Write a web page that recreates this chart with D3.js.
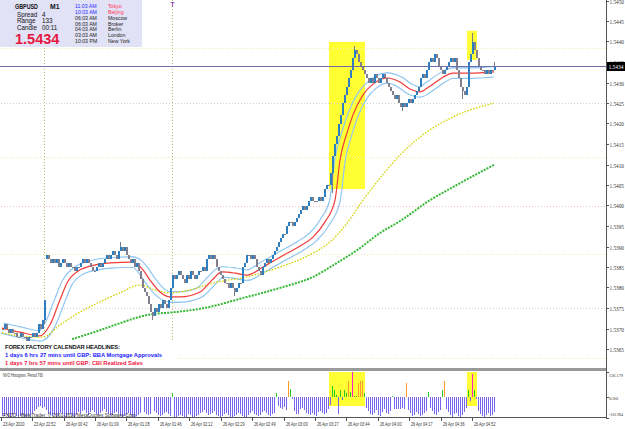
<!DOCTYPE html>
<html lang="en">
<head>
<meta charset="UTF-8">
<title>GBPUSD M1</title>
<script src="https://d3js.org/d3.v7.min.js"></script>
<style>
  body { margin: 0; background: #fff; }
  svg { display: block; font-family: "Liberation Sans", Arial, sans-serif; }
</style>
</head>
<body>
<div id="chart"></div>
<script>
// M1 closes, one per bar
const closes = [
  1.5370,1.5371,1.5370,1.5369,1.5370,1.5369,1.5369,
  1.5368,1.5368,1.5369,1.5368,1.5368,1.5367,1.5368,1.5368,1.5369,1.5368,1.5369,1.5371,
  1.5370,1.5372,1.5377,
  1.5388,1.5387,1.5386,
  1.5387,1.5386,1.5387,1.5385,1.5386,1.5387,1.5386,1.5385,1.5386,1.5385,1.5385,1.5384,1.5385,
  1.5385,1.5386,1.5387,1.5386,1.5387,1.5386,1.5385,1.5384,1.5384,1.5385,1.5386,1.5385,
  1.5386,1.5387,1.5388,1.5387,1.5388,1.5389,1.5388,1.5387,1.5389,1.5390,1.5389,1.5390,1.5388,
  1.5387,1.5386,1.5387,1.5385,1.5386,1.5384,1.5382,1.5380,1.5379,1.5378,
  1.5376,1.5374,1.5373,1.5375,1.5374,1.5376,1.5375,1.5377,1.5376,1.5375,1.5377,
  1.5380,1.5383,1.5382,
  1.5383,1.5384,1.5383,1.5382,1.5381,1.5383,1.5382,1.5384,1.5383,1.5382,1.5383,1.5384,1.5384,1.5385,1.5384,
  1.5387,1.5388,1.5387,1.5388,1.5387,
  1.5385,1.5384,1.5383,1.5382,
  1.5381,1.5381,1.5380,1.5381,1.5380,1.5379,1.5380,1.5381,1.5381,
  1.5385,1.5386,1.5388,
  1.5388,1.5387,1.5388,1.5387,1.5385,
  1.5384,1.5383,1.5385,
  1.5386,1.5387,1.5386,1.5387,1.5388,1.5389,
  1.5390,1.5391,1.5392,1.5393,1.5393,1.5395,1.5396,
  1.5396,1.5395,1.5396,1.5397,1.5398,
  1.5399,1.5400,1.5399,1.5400,1.5401,1.5402,1.5401,
  1.5401,1.5401,1.5402,1.5401,1.5402,
  1.5404,1.5405,1.5405,1.5408,
  1.5412,1.5415,1.5417,
  1.5420,1.5422,1.5425,1.5427,
  1.5429,1.5431,1.5433,1.5436,
  1.5438,1.5437,1.5435,
  1.5434,1.5433,1.5432,1.5431,
  1.5430,1.5431,1.5430,1.5432,1.5431,1.5430,1.5431,1.5432,1.5431,1.5430,
  1.5429,1.5428,1.5427,1.5426,1.5427,1.5425,1.5424,1.5425,
  1.5424,1.5425,1.5426,1.5425,1.5426,1.5427,1.5428,
  1.5429,1.5431,1.5432,1.5431,1.5433,
  1.5435,1.5436,1.5435,1.5437,1.5436,
  1.5434,1.5433,1.5432,1.5433,1.5434,
  1.5435,1.5436,1.5435,1.5436,1.5433,
  1.5431,1.5429,1.5428,1.5427,1.5429,
  1.5435,
  1.5437,1.5440,1.5438,1.5436,
  1.5434,1.5433,
  1.5433,1.5432,1.5433,1.5432,1.5433,1.5433,1.5434
];
// bars that opened away from the previous close
const openGaps = [[22, 1.5387]];
// [bar, high, low] where a wick sticks out of the body
const wicks = [[21, null, 1.5371], [59, 1.5391, null], [75, null, 1.5372], [116, null, 1.5378],
  [165, null, 1.5403], [176, 1.5439, null], [200, null, 1.5423], [230, null, 1.5426],
  [235, 1.5442, null], [246, 1.5435, null]];

// moving averages: [bar, price]
const maRed = [[0,1.53701],[9,1.53691],[19,1.53682],[24,1.53709],[29,1.53770],[32.5,1.53811],
  [39,1.53843],[44,1.53852],[54,1.53860],[65.5,1.53862],[70.5,1.53843],[74,1.53818],
  [79,1.53789],[84,1.53777],[89,1.53777],[99,1.53789],[105,1.53818],[110,1.53838],
  [116.5,1.53835],[122.5,1.53830],[130.5,1.53850],[139,1.53874],[149,1.53901],
  [155.5,1.53923],[161.5,1.53960],[166.5,1.54013],[169,1.54111],[172.5,1.54177],
  [175.5,1.54221],[180.5,1.54270],[185.5,1.54296],[192.5,1.54311],[199,1.54301],
  [204,1.54284],[209,1.54277],[214,1.54291],[220.5,1.54313],[225.5,1.54323],
  [234,1.54323],[246,1.54326]];
const maYellow = [[0,1.53689],[9,1.53682],[20.5,1.53679],[29,1.53709],[39,1.53740],
  [49,1.53765],[59,1.53787],[69,1.53806],[76.5,1.53794],[84,1.53787],[94,1.53794],
  [105.5,1.53811],[122.5,1.53826],[139,1.53850],[155.5,1.53884],[164,1.53911],
  [172.5,1.53957],[180.5,1.54013],[189,1.54067],[199,1.54123],[209,1.54167],
  [225.5,1.54216],[246,1.54250]];
const maGreen = [[35,1.53674],[49,1.53696],[59,1.53713],[72.5,1.53733],[86.5,1.53740],
  [99,1.53748],[122.5,1.53777],[139,1.53799],[155.5,1.53826],[167.5,1.53860],
  [177.5,1.53891],[189,1.53933],[199,1.53962],[214,1.54013],[225.5,1.54045],[246,1.54099]];

// NVO histogram, one value per bar
const nvo = [
  -92,-95,-88,-97,-100,-90,-85,-95,-98,-92,-88,-96,-100,-94,-90,
  -80,-70,-60,-50,-45,-55,-48,-65,-85,-90,
  -95,-88,-100,-92,-78,-85,-96,-100,-90,-82,-94,-98,-86,-75,-80,
  -70,-62,-80,-88,-75,-65,-72,-85,-90,-78,-68,-60,-74,-82,-88,
  -90,-80,-72,-85,-95,-100,-92,-86,-78,-90,-98,-100,-95,-88,-80,
  3,-75,-85,-90,-82,3,-70,-78,-88,-95,-90,-80,-72,-85,-92,
  23,
  -98,-100,-95,-88,-92,-100,-96,-85,-90,-98,-100,-94,-86,-80,
  -72,-65,-80,-90,-85,-78,-70,-88,-95,-100,-92,-84,-76,-90,-98,-100,-95,-86,-80,
  -85,-92,-100,-96,-88,-78,-70,-82,-90,-95,-88,-75,-68,-80,-88,-92,-85,-78,
  23,
  -45,-55,-60,-48,-62,
  80, 40,
  -10,-70,-82,-85,
  -60,-55,-65,-78,-85,-90,-80,-88,-92,-75,-70,-80,-85,-78,-60,
  -37,55,35,10,-85,35,-15,35,20,80,25,126,5,5,72,80,80,20,
  -55,-70,-85,-90,-80,-65,-88,-92,-75,-60,-78,-85,-70,
  8,
  -57,-58,-56,-57,-55,-58,
  70,
  -65,-80,-92,-88,-75,-85,-95,-90,-78,-70,
  25,
  -55,-70,-85,-90,-75,-62,
  35,80,
  -60,-75,-90,-98,-85,-80,-92,-100,-88,-72,-55,
  38,-20,116,38,-10,
  -70,-85,-95,-100,-90,-80,-92,-88,-75
];
const nvoGreen = [70,75,85,137,144,165,166,167,169,171,172,174,176,177,181,195,213,220,233,236];
const nvoOrange = [143,173,178,179,180,202,221];
const nvoMagenta = [175,235];
const nvoLabels = ["126.179", "0.00", "-102.984"];

const bid = 1.5434;
const priceLabels = ["1.5450","1.5445","1.5440","1.5435","1.5430","1.5425","1.5420","1.5415","1.5410",
  "1.5405","1.5400","1.5395","1.5390","1.5385","1.5380","1.5375","1.5370","1.5365"];
const timeLabels = ["23 Apr 2010","23 Apr 22:52","26 Apr 00:42","26 Apr 01:09","26 Apr 01:28",
  "26 Apr 01:46","26 Apr 02:12","26 Apr 02:29","26 Apr 02:49","26 Apr 03:09","26 Apr 03:27",
  "26 Apr 03:44","26 Apr 04:00","26 Apr 04:17","26 Apr 04:36","26 Apr 04:52"];
const timeLabelBars = [0,15.5,31.5,47,62.5,78.5,94,110,125.5,141.5,157,172.5,188.5,204,220,235.5];

// horizontal level lines: [price, kind, first bar]
const levels = [[1.54384,"y",-2],[1.54250,"g",-2],[1.54118,"y",-2],[1.53999,"p",-2],
  [1.53882,"y",-2],[1.53750,"g",-2],[1.53628,"y",88]];
const vLines = [21, 85];
// highlighted zones: [first bar, last bar, top price, bottom price]
const zones = [[164, 181, 1.54399, 1.54040], [233, 237, 1.54426, 1.54355]];

const clockTimes = ["11:03 AM","10:03 AM","06:03 AM","06:03 AM","04:03 AM","03:03 AM","10:03 PM"];
const clockCities = ["Tokyo","Beijing","Moscow","Broker","Berlin","London","New York"];
const headlines = ["1 days 6 hrs 27 mins until GBP: BBA Mortgage Approvals",
  "1 days 7 hrs 57 mins until GBP: CBI Realized Sales"];

const W = 625, H = 429;
const svg = d3.select("#chart").append("svg").attr("width", W).attr("height", H);
const x = d3.scaleLinear().domain([0, closes.length - 1]).range([2, 494]);
const y = d3.scaleLinear().domain([1.5365, 1.5450]).range([349, 0.5]);
const yh = d3.scaleLinear().domain([-102.984, 126.179]).range([418, 372]);

svg.append("rect").attr("width", W).attr("height", H).attr("fill", "#fff");

svg.append("clipPath").attr("id", "mainClip")
  .append("rect").attr("x", 0).attr("y", 0).attr("width", 606).attr("height", 367);
const main = svg.append("g").attr("clip-path", "url(#mainClip)");

// zones behind everything
main.selectAll(".zone").data(zones).join("rect")
  .attr("x", d => x(d[0]) - 1).attr("width", d => x(d[1]) - x(d[0]) + 2)
  .attr("y", d => y(d[2])).attr("height", d => y(d[3]) - y(d[2]))
  .attr("fill", "#ffff33");

const levelColor = { y: "#ececb0", g: "#cfcfcf", p: "#efc4c4" };
main.selectAll(".level").data(levels).join("line")
  .attr("x1", d => x(d[2])).attr("x2", 606)
  .attr("y1", d => Math.round(y(d[0])) + 0.5).attr("y2", d => Math.round(y(d[0])) + 0.5)
  .attr("stroke", d => levelColor[d[1]]).attr("stroke-dasharray", "1,2");

main.selectAll(".vline").data(vLines).join("line")
  .attr("x1", d => Math.round(x(d)) + 0.5).attr("x2", d => Math.round(x(d)) + 0.5)
  .attr("y1", 0).attr("y2", 340)
  .attr("stroke", "#bcbc70").attr("stroke-dasharray", "1,2");
main.append("text").attr("x", x(vLines[1]) - 1.5).attr("y", 7)
  .attr("font-size", 6.5).attr("font-weight", "bold").attr("fill", "#9040b0").text("T");

const line = d3.line().x(d => x(d[0])).y(d => y(d[1])).curve(d3.curveMonotoneX);

// red MA with its light blue tube
const defs = svg.append("defs");
const mask = defs.append("mask").attr("id", "tube").attr("maskUnits", "userSpaceOnUse")
  .attr("x", 0).attr("y", 0).attr("width", W).attr("height", H);
mask.append("path").attr("d", line(maRed)).attr("fill", "none").attr("stroke", "#fff").attr("stroke-width", 12);
mask.append("path").attr("d", line(maRed)).attr("fill", "none").attr("stroke", "#000").attr("stroke-width", 9.2);
main.append("path").attr("d", line(maRed)).attr("fill", "none")
  .attr("stroke", "#94c8f2").attr("stroke-width", 12).attr("mask", "url(#tube)");

main.append("path").attr("d", line(maGreen)).attr("fill", "none")
  .attr("stroke", "#34b834").attr("stroke-width", 2).attr("stroke-dasharray", "2,1.2");
main.append("path").attr("d", line(maYellow)).attr("fill", "none")
  .attr("stroke", "#d2d200").attr("stroke-width", 1.3).attr("stroke-dasharray", "1.6,1.4");
main.append("path").attr("d", line(maRed)).attr("fill", "none")
  .attr("stroke", "#f03a3a").attr("stroke-width", 1.2);

// candles
const candles = closes.map((c, i) => {
  let o = i === 0 ? c : closes[i - 1];
  const g = openGaps.find(d => d[0] === i);
  if (g) o = g[1];
  let hi = Math.max(o, c), lo = Math.min(o, c);
  const w = wicks.find(d => d[0] === i);
  if (w) { if (w[1] != null) hi = w[1]; if (w[2] != null) lo = w[2]; }
  return { i, o, c, hi, lo };
});
const cg = main.append("g").attr("shape-rendering", "crispEdges");
cg.selectAll(".wick").data(candles.filter(d => d.hi > Math.max(d.o, d.c) || d.lo < Math.min(d.o, d.c)))
  .join("line")
  .attr("x1", d => Math.round(x(d.i)) + 0.5).attr("x2", d => Math.round(x(d.i)) + 0.5)
  .attr("y1", d => y(d.hi)).attr("y2", d => y(d.lo))
  .attr("stroke", "#7c7c88");
cg.selectAll(".body").data(candles).join("rect")
  .attr("x", d => Math.round(x(d.i)) - 0.5).attr("width", 2)
  .attr("y", d => y(Math.max(d.o, d.c)))
  .attr("height", d => Math.max(1, y(Math.min(d.o, d.c)) - y(Math.max(d.o, d.c))))
  .attr("fill", d => d.c > d.o ? "#2e7ec2" : "#80808e");

// bid line
main.append("line").attr("x1", 0).attr("x2", 606)
  .attr("y1", Math.round(y(bid)) + 0.5).attr("y2", Math.round(y(bid)) + 0.5)
  .attr("stroke", "#6e6eaa");

// info panel
svg.append("rect").attr("x", 0).attr("y", 0).attr("width", 142).attr("height", 47).attr("fill", "#e2e2f6");
const info = svg.append("g").attr("fill", "#111");
info.append("text").attr("x", 15).attr("y", 9).attr("font-size", 6.8).attr("font-weight", "bold")
  .attr("textLength", 23).attr("lengthAdjust", "spacingAndGlyphs").text("GBPUSD");
info.append("text").attr("x", 50).attr("y", 9).attr("font-size", 6.8).attr("font-weight", "bold").text("M1");
[["Spread", "4"], ["Range", "133"], ["Candle", "00:11"]].forEach((r, k) => {
  info.append("text").attr("x", 17).attr("y", 17.2 + k * 6.2).attr("font-size", 6.3).text(r[0]);
  info.append("text").attr("x", 42).attr("y", 17.2 + k * 6.2).attr("font-size", 6.3).text(r[1]);
});
info.append("text").attr("x", 15).attr("y", 43.5).attr("font-size", 14.5).attr("font-weight", "bold")
  .attr("fill", "#e6173f").text(bid.toFixed(4));
clockTimes.forEach((t, k) => {
  info.append("text").attr("x", 75).attr("y", 7.8 + k * 5.9).attr("font-size", 5.2)
    .attr("fill", k < 2 ? "#2b2bff" : "#222").text(t);
  info.append("text").attr("x", 108).attr("y", 7.8 + k * 5.9).attr("font-size", 5.2)
    .attr("fill", k < 2 ? "#ff3355" : "#222").text(clockCities[k]);
});

// calendar headlines
svg.append("text").attr("x", 5).attr("y", 348.5).attr("font-size", 5.8).attr("font-weight", "bold")
  .attr("textLength", 115).attr("lengthAdjust", "spacing").attr("fill", "#111")
  .text("FOREX FACTORY CALENDAR  HEADLINES:");
svg.append("text").attr("x", 5).attr("y", 357).attr("font-size", 5.6).attr("font-weight", "bold")
  .attr("textLength", 157).attr("lengthAdjust", "spacingAndGlyphs").attr("fill", "#1a1aff").text(headlines[0]);
svg.append("text").attr("x", 5).attr("y", 364.5).attr("font-size", 5.6).attr("font-weight", "bold")
  .attr("textLength", 138).attr("lengthAdjust", "spacingAndGlyphs").attr("fill", "#ee1540").text(headlines[1]);

// separator between windows
svg.append("rect").attr("x", 0).attr("y", 368).attr("width", 606).attr("height", 3).attr("fill", "#9a9a9a");

// NVO histogram
const hg = svg.append("g").attr("shape-rendering", "crispEdges");
hg.selectAll(".zoneH").data(zones).join("rect")
  .attr("x", d => x(d[0]) - 1).attr("width", d => x(d[1]) - x(d[0]) + 2)
  .attr("y", yh(126.179)).attr("height", yh(-43) - yh(126.179))
  .attr("fill", "#ffff33");
const barColor = i => nvoMagenta.includes(i) ? "#ff22cc" : nvoOrange.includes(i) ? "#ff9a2e"
  : nvoGreen.includes(i) ? "#22cc22" : "#7766ee";
hg.selectAll(".hbar").data(nvo).join("rect")
  .attr("x", (d, i) => Math.round(x(i))).attr("width", 1)
  .attr("y", d => yh(Math.max(0, d))).attr("height", d => Math.abs(yh(d) - yh(0)))
  .attr("fill", (d, i) => barColor(i));
svg.append("text").attr("x", 3).attr("y", 376.5).attr("font-size", 5).attr("fill", "#333")
  .attr("textLength", 40).attr("lengthAdjust", "spacingAndGlyphs").text("NVO Histogram, Period 760");
svg.append("text").attr("x", 3).attr("y", 416.5).attr("font-size", 5).attr("fill", "#333")
  .attr("textLength", 134).attr("lengthAdjust", "spacingAndGlyphs")
  .text("FXDD - MetaTrader, \u00a9 2001-2010 MetaQuotes Software Corp.");

// right price axis
svg.append("line").attr("x1", 606.5).attr("x2", 606.5).attr("y1", 0).attr("y2", 418).attr("stroke", "#555");
const pa = svg.append("g").attr("font-family", "'Liberation Serif', serif").attr("fill", "#333");
priceLabels.forEach(p => {
  const yy = Math.round(y(+p)) + 0.5;
  pa.append("line").attr("x1", 606).attr("x2", 609).attr("y1", yy).attr("y2", yy).attr("stroke", "#555");
  pa.append("text").attr("x", 609.5).attr("y", yy + 2).attr("font-size", 6)
    .attr("textLength", 14.5).attr("lengthAdjust", "spacingAndGlyphs").text(p);
});
pa.append("rect").attr("x", 607).attr("y", Math.round(y(bid)) - 4).attr("width", 18).attr("height", 9).attr("fill", "#000");
pa.append("text").attr("x", 608.5).attr("y", Math.round(y(bid)) + 2.5).attr("font-size", 6).attr("fill", "#fff")
  .attr("textLength", 15).attr("lengthAdjust", "spacingAndGlyphs").text(bid.toFixed(4));
[126.179, 0, -102.984].forEach((v, k) => {
  const yy = Math.round(yh(v)) + 0.5;
  pa.append("line").attr("x1", 606).attr("x2", 609).attr("y1", yy).attr("y2", yy).attr("stroke", "#555");
  pa.append("text").attr("x", 609).attr("y", k === 0 ? yy + 4.5 : k === 2 ? yy - 2.5 : yy + 2).attr("font-size", 5)
    .attr("textLength", k === 1 ? 9 : 14).attr("lengthAdjust", "spacingAndGlyphs")
    .text(nvoLabels[k]);
});

// bottom time axis
svg.append("line").attr("x1", 0).attr("x2", 607).attr("y1", 417.5).attr("y2", 417.5).attr("stroke", "#555");
const ta = svg.append("g").attr("fill", "#333");
timeLabels.forEach((t, k) => {
  const xx = Math.round(x(timeLabelBars[k])) - 0.5;
  ta.append("line").attr("x1", xx).attr("x2", xx).attr("y1", 417).attr("y2", 421).attr("stroke", "#555");
  ta.append("text").attr("x", xx + 1.5).attr("y", 426).attr("font-size", 5.5)
    .attr("textLength", 21.5).attr("lengthAdjust", "spacingAndGlyphs").text(t);
});
</script>
</body>
</html>
